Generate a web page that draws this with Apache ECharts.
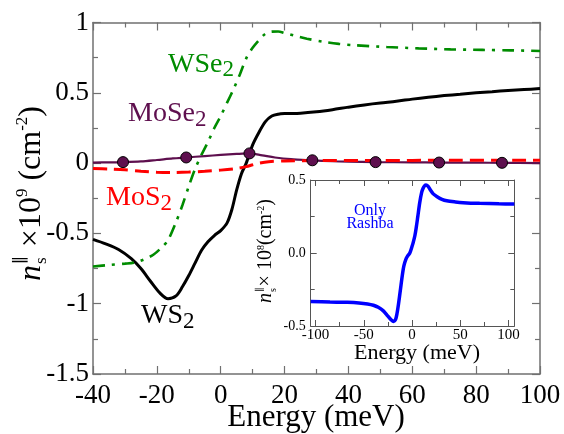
<!DOCTYPE html>
<html>
<head>
<meta charset="utf-8">
<script src="https://cdn.jsdelivr.net/npm/echarts@6/dist/echarts.min.js"></script>
<style>
  html, body { margin: 0; padding: 0; background: #fff; }
  #chart { width: 564px; height: 434px; }
</style>
</head>
<body>
<div id="chart"></div>
<script>
const SERIF = '"Liberation Serif", "DejaVu Serif", serif';

// ---- main panel: spin density vs energy (meV) ----
const ws2Energy = [-40, -36, -32, -28, -25, -22, -19, -16.5, -14, -12, -10, -8, -6, -4, -2, 0, 2, 3.5, 5, 6.5, 8, 10, 12, 14, 16, 18, 20, 25, 30, 35, 40, 45, 50, 55, 60, 65, 70, 75, 80, 85, 90, 95, 100];
const ws2Value  = [-0.543, -0.575, -0.615, -0.68, -0.75, -0.84, -0.925, -0.965, -0.945, -0.88, -0.8, -0.71, -0.62, -0.56, -0.515, -0.48, -0.425, -0.33, -0.19, -0.075, 0.0, 0.13, 0.22, 0.295, 0.335, 0.348, 0.352, 0.355, 0.365, 0.38, 0.398, 0.414, 0.428, 0.44, 0.455, 0.468, 0.48, 0.49, 0.5, 0.508, 0.516, 0.523, 0.53];

const wse2Energy = [-40, -35, -30, -27, -24, -21, -18.5, -16.5, -14, -12, -10, -8, -6, -4, -2, 0, 2, 4, 6, 8, 10, 12, 14, 16, 18, 20, 23, 27, 32, 37, 42, 52, 62, 72, 82, 91, 100];
const wse2Value  = [-0.735, -0.725, -0.715, -0.707, -0.685, -0.65, -0.6, -0.548, -0.42, -0.3, -0.165, -0.04, 0.06, 0.15, 0.25, 0.335, 0.43, 0.525, 0.63, 0.745, 0.82, 0.875, 0.92, 0.935, 0.936, 0.925, 0.907, 0.885, 0.863, 0.848, 0.838, 0.826, 0.816, 0.809, 0.805, 0.802, 0.797];

const mos2Energy = [-40, -35, -30, -25, -20, -15, -10, -5, 0, 5, 8, 10, 12, 15, 20, 30, 50, 70, 100];
const mos2Value  = [-0.038, -0.042, -0.048, -0.058, -0.065, -0.067, -0.064, -0.058, -0.05, -0.038, -0.025, -0.012, 0.0, 0.01, 0.015, 0.018, 0.018, 0.02, 0.02];

const mose2Energy = [-40, -35, -30.6, -25, -20, -15, -10.8, -5, 0, 5, 9, 13, 17, 22, 28.7, 35, 40, 48.5, 60, 68.4, 80, 88.1, 100];
const mose2Value  = [0.004, 0.005, 0.007, 0.012, 0.022, 0.033, 0.04, 0.05, 0.058, 0.065, 0.069, 0.055, 0.04, 0.028, 0.02, 0.013, 0.01, 0.007, 0.005, 0.004, 0.003, 0.002, 0.0];
const mose2MarkEnergy = [-30.6, -10.8, 9, 28.7, 48.5, 68.4, 88.1];
const mose2MarkValue  = [0.007, 0.04, 0.069, 0.02, 0.007, 0.004, 0.002];

// ---- inset: Rashba-only spin density ----
const rashbaEnergy = [-105, -85, -67, -55, -46, -40, -35, -30, -26, -22, -19, -17, -15.5, -14, -12, -10, -8.5, -6, -4, -2.4, 0, 1, 3, 4.5, 6, 8, 10, 11.5, 13, 14.5, 16.5, 19, 22, 26, 31, 36, 45, 53, 70, 90, 106];
const rashbaValue  = [-0.333, -0.336, -0.338, -0.342, -0.349, -0.358, -0.372, -0.395, -0.425, -0.455, -0.47, -0.455, -0.413, -0.35, -0.25, -0.15, -0.09, -0.037, -0.015, -0.002, 0.045, 0.066, 0.12, 0.18, 0.25, 0.345, 0.415, 0.443, 0.46, 0.466, 0.458, 0.432, 0.405, 0.386, 0.368, 0.358, 0.35, 0.345, 0.34, 0.337, 0.336];

const insetMajorTicks = [-100, -50, 0, 50, 100];
const insetMinorTicks = [-75, -25, 25, 75];

const zip = (xs, ys) => xs.map((x, i) => [x, ys[i]]);

// ---- text helpers ----
const measureCtx = document.createElement('canvas').getContext('2d');
function textWidth(str, size, style) {
  measureCtx.font = (style || 'normal') + ' ' + size + 'px ' + SERIF;
  return measureCtx.measureText(str).width;
}
// places a text piece with its alphabetic baseline at y
function piece(x, y, str, size, color, style, align) {
  return {
    type: 'text', x: x, y: y - 0.34 * size,
    style: {
      text: str, fontSize: size, fontFamily: SERIF, fontStyle: style || 'normal',
      fill: color, align: align || 'left', verticalAlign: 'middle'
    }
  };
}
function subLabel(x, y, main, sub, size, subSize, drop, color) {
  const w = textWidth(main, size);
  return [piece(x, y, main, size, color), piece(x + w, y + drop, sub, subSize, color)];
}
// rotated axis title: n_s^|| x 10^p (cm^-2), reading bottom to top
function densityTitle(px, py, size, power, gapTimes) {
  const small = Math.round(size * 0.52);
  const els = [];
  let x = 0;
  els.push(piece(x, 0, 'n', size, '#000', 'italic'));
  x += textWidth('n', size, 'italic') + 1;
  els.push(piece(x, -size * 0.45, '\u2225', small, '#000'));
  els.push(piece(x, size * 0.17, 's', small, '#000'));
  x += Math.max(textWidth('\u2225', small), textWidth('s', small)) + 1;
  const t1 = gapTimes;
  els.push(piece(x, 0, t1, size, '#000'));
  x += textWidth(t1, size);
  els.push(piece(x, -size * 0.42, power, small, '#000'));
  x += textWidth(power, small);
  const t2 = (size > 25 ? ' ' : '') + '(cm';
  els.push(piece(x, 0, t2, size, '#000'));
  x += textWidth(t2, size);
  els.push(piece(x, -size * 0.42, '-2', small, '#000'));
  x += textWidth('-2', small);
  els.push(piece(x, 0, ')', size, '#000'));
  return { type: 'group', x: px, y: py, rotation: Math.PI / 2, children: els };
}

const frameColor = '#707070';
const mainLine = { lineStyle: { color: frameColor, width: 1.5 } };
const mainTick = { show: true, inside: true, length: 8, lineStyle: { color: frameColor, width: 1.2 } };
const mainMinor = { show: true, splitNumber: 2, length: 5, lineStyle: { color: frameColor, width: 1.2 } };
const insetColor = '#555';
const insetLine = { lineStyle: { color: insetColor, width: 1 } };
const insetTickStyle = { color: insetColor, width: 1 };

// inset x axis: labelled major ticks, plus a bare axis carrying the minor ticks
function insetX(position, major, labelled) {
  const ax = {
    gridIndex: 1, type: 'value', position: position, min: -105, max: 106,
    axisLine: major ? Object.assign({ show: true, onZero: false }, insetLine) : { show: false, onZero: false },
    axisTick: {
      show: true, inside: true, length: major ? 6 : 4,
      customValues: major ? insetMajorTicks : insetMinorTicks, lineStyle: insetTickStyle
    },
    splitLine: { show: false },
    axisLabel: { show: false }
  };
  if (labelled) {
    ax.axisLabel = { customValues: insetMajorTicks, fontFamily: SERIF, fontSize: 15, color: '#000', margin: 2 };
  }
  return ax;
}

const chart = echarts.init(document.getElementById('chart'), null, { renderer: 'canvas' });

const option = {
  animation: false,
  backgroundColor: '#fff',
  grid: [
    { left: 93, top: 22.5, width: 447, height: 351.5, outerBoundsMode: 'none', containLabel: false },
    { left: 310.7, top: 180, width: 203.6, height: 146, outerBoundsMode: 'none', containLabel: false,
      show: true, backgroundColor: '#fff', borderWidth: 0 }
  ],
  xAxis: [
    {
      gridIndex: 0, type: 'value', position: 'bottom', min: -40, max: 100, interval: 20,
      axisLine: Object.assign({ show: true, onZero: false }, mainLine),
      axisTick: mainTick, minorTick: mainMinor, splitLine: { show: false },
      axisLabel: { fontFamily: SERIF, fontSize: 27, color: '#000', margin: 8 }
    },
    {
      gridIndex: 0, type: 'value', position: 'top', min: -40, max: 100, interval: 20,
      axisLine: Object.assign({ show: true, onZero: false }, mainLine),
      axisTick: mainTick, minorTick: mainMinor, splitLine: { show: false },
      axisLabel: { show: false }
    },
    insetX('bottom', true, true),
    insetX('bottom', false, false),
    insetX('top', true, false),
    insetX('top', false, false)
  ],
  yAxis: [
    {
      gridIndex: 0, type: 'value', position: 'left', min: -1.5, max: 1, interval: 0.5,
      axisLine: Object.assign({ show: true, onZero: false }, mainLine),
      axisTick: mainTick, minorTick: mainMinor, splitLine: { show: false },
      axisLabel: { fontFamily: SERIF, fontSize: 27, color: '#000', margin: 4 }
    },
    {
      gridIndex: 0, type: 'value', position: 'right', min: -1.5, max: 1, interval: 0.5,
      axisLine: Object.assign({ show: true, onZero: false }, mainLine),
      axisTick: mainTick, minorTick: mainMinor, splitLine: { show: false },
      axisLabel: { show: false }
    },
    {
      gridIndex: 1, type: 'value', position: 'left', min: -0.5, max: 0.5, interval: 0.5,
      axisLine: Object.assign({ show: true, onZero: false }, insetLine),
      axisTick: { show: true, inside: true, length: 6, lineStyle: insetTickStyle },
      minorTick: { show: true, splitNumber: 2, length: 4, lineStyle: insetTickStyle },
      splitLine: { show: false },
      axisLabel: { fontFamily: SERIF, fontSize: 14, color: '#000', margin: 5, formatter: v => v.toFixed(1) }
    },
    {
      gridIndex: 1, type: 'value', position: 'right', min: -0.5, max: 0.5, interval: 0.5,
      axisLine: Object.assign({ show: true, onZero: false }, insetLine),
      axisTick: { show: true, inside: true, length: 6, lineStyle: insetTickStyle },
      minorTick: { show: true, splitNumber: 2, length: 4, lineStyle: insetTickStyle },
      splitLine: { show: false }, axisLabel: { show: false }
    }
  ],
  series: [
    {
      name: 'WS2', type: 'line', xAxisIndex: 0, yAxisIndex: 0, data: zip(ws2Energy, ws2Value),
      showSymbol: false, smooth: 0.3, lineStyle: { color: '#000', width: 3 }, z: 3
    },
    {
      name: 'WSe2', type: 'line', xAxisIndex: 0, yAxisIndex: 0, data: zip(wse2Energy, wse2Value),
      showSymbol: false, smooth: 0.3,
      lineStyle: { color: '#008c00', width: 2.6, type: [12, 7, 3, 7], cap: 'butt' }, z: 3
    },
    {
      name: 'MoSe2', type: 'line', xAxisIndex: 0, yAxisIndex: 0, data: zip(mose2Energy, mose2Value),
      showSymbol: false, smooth: 0.3, lineStyle: { color: '#5e0f4e', width: 2.2 }, z: 3
    },
    {
      name: 'MoS2', type: 'line', xAxisIndex: 0, yAxisIndex: 0, data: zip(mos2Energy, mos2Value),
      showSymbol: false, smooth: 0.3, lineStyle: { color: '#ff0000', width: 3, type: [14, 7] }, z: 4
    },
    {
      name: 'MoSe2 points', type: 'scatter', xAxisIndex: 0, yAxisIndex: 0,
      data: zip(mose2MarkEnergy, mose2MarkValue), symbol: 'circle', symbolSize: 11,
      itemStyle: { color: '#5e0f4e', borderColor: '#000', borderWidth: 1, opacity: 1 }, z: 5
    },
    {
      name: 'Only Rashba', type: 'line', xAxisIndex: 2, yAxisIndex: 2, data: zip(rashbaEnergy, rashbaValue),
      showSymbol: false, smooth: 0.3, lineStyle: { color: '#0000ff', width: 3.5 }, z: 6
    }
  ],
  graphic: [
    densityTitle(42, 281, 32, '9', ' \u00d710'),
    densityTitle(273, 303, 20, '8', '\u00d7 10'),
    piece(316, 428, 'Energy (meV)', 31, '#000', 'normal', 'center'),
    piece(417, 361, 'Energy (meV)', 22, '#000', 'normal', 'center'),
    ...subLabel(168, 74, 'WSe', '2', 28, 23, 4, '#008c00'),
    ...subLabel(128, 123, 'MoSe', '2', 28, 23, 5, '#5e0f4e'),
    ...subLabel(106, 207, 'MoS', '2', 28, 23, 5, '#ff0000'),
    ...subLabel(141, 325, 'WS', '2', 28, 23, 5, '#000'),
    {
      type: 'text', x: 370, y: 211, z: 100,
      style: { text: 'Only', fontSize: 16, fontFamily: SERIF, fill: '#0000ff', align: 'center', verticalAlign: 'middle' }
    },
    {
      type: 'text', x: 370, y: 223.5, z: 100,
      style: { text: 'Rashba', fontSize: 16, fontFamily: SERIF, fill: '#0000ff', align: 'center', verticalAlign: 'middle' }
    }
  ]
};

chart.setOption(option);
</script>
</body>
</html>
